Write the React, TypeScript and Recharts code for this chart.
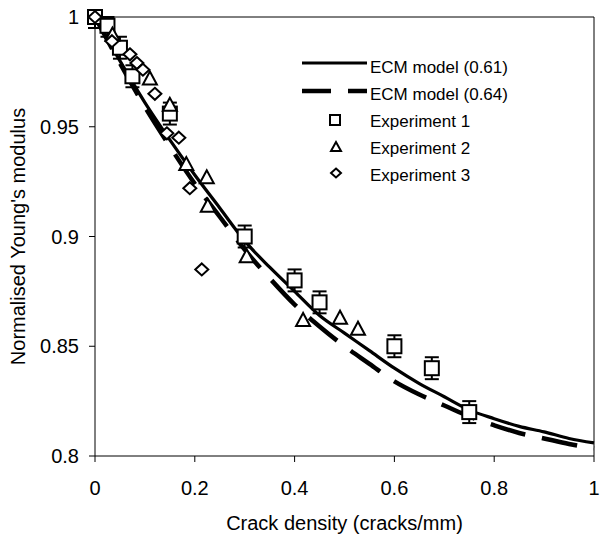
import React from "react";
import {
  ComposedChart,
  Line,
  Scatter,
  ErrorBar,
  XAxis,
  YAxis,
  Legend,
  ReferenceLine,
} from "recharts";

// model curves
const modelX = [0, 0.05, 0.1, 0.15, 0.2, 0.25, 0.3, 0.35, 0.4, 0.45, 0.5, 0.55, 0.6, 0.65, 0.7, 0.75, 0.8, 0.85, 0.9, 0.95, 1];
const ecm061 = [1, 0.98, 0.961, 0.944, 0.928, 0.913, 0.898, 0.886, 0.875, 0.864, 0.856, 0.848, 0.84, 0.833, 0.827, 0.821, 0.817, 0.8135, 0.811, 0.808, 0.806];
const ecm064 = [1, 0.979, 0.959, 0.941, 0.924, 0.909, 0.894, 0.881, 0.869, 0.859, 0.85, 0.842, 0.834, 0.828, 0.823, 0.818, 0.814, 0.8105, 0.808, 0.8055, 0.8035];

// experiments
const exp1X = [0, 0.025, 0.05, 0.075, 0.15, 0.3, 0.4, 0.45, 0.6, 0.675, 0.75];
const exp1Y = [1, 0.996, 0.986, 0.973, 0.956, 0.9, 0.88, 0.87, 0.85, 0.84, 0.82];
const exp1ErrLow = [0.005, 0.005, 0.005, 0.005, 0.005, 0.005, 0.005, 0.005, 0.005, 0.005, 0.005];
const exp1ErrHigh = [0, 0.004, 0.005, 0.005, 0.005, 0.005, 0.005, 0.005, 0.005, 0.005, 0.005];

const exp2X = [0.035, 0.11, 0.15, 0.183, 0.224, 0.226, 0.304, 0.417, 0.491, 0.527];
const exp2Y = [0.992, 0.972, 0.96, 0.933, 0.927, 0.914, 0.891, 0.862, 0.863, 0.858];

const exp3X = [0, 0.034, 0.07, 0.084, 0.096, 0.12, 0.144, 0.168, 0.19, 0.214];
const exp3Y = [1, 0.989, 0.983, 0.979, 0.976, 0.965, 0.947, 0.945, 0.922, 0.885];

const xTicks = [0, 0.2, 0.4, 0.6, 0.8, 1];
const xTickLabels = ["0", "0.2", "0.4", "0.6", "0.8", "1"];
const yTicks = [0.8, 0.85, 0.9, 0.95, 1];
const yTickLabels = ["0.8", "0.85", "0.9", "0.95", "1"];

const legendNames = ["ECM model (0.61)", "ECM model (0.64)", "Experiment 1", "Experiment 2", "Experiment 3"];

const FONT = '"Liberation Sans", Arial, sans-serif';

const line061 = modelX.map((x, i) => ({ x, y: ecm061[i] }));
const line064 = modelX.map((x, i) => ({ x, y: ecm064[i] }));
const exp1 = exp1X.map((x, i) => ({ x, y: exp1Y[i], err: [exp1ErrLow[i], exp1ErrHigh[i]] }));
const exp2 = exp2X.map((x, i) => ({ x, y: exp2Y[i] }));
const exp3 = exp3X.map((x, i) => ({ x, y: exp3Y[i] }));

// marker shapes
const square = (cx: number, cy: number, s: number, sw: number) => (
  <rect x={cx - s / 2} y={cy - s / 2} width={s} height={s} fill="#fff" stroke="#000" strokeWidth={sw} />
);
const triangle = (cx: number, cy: number, s: number, sw: number) => (
  <polygon
    points={`${cx},${cy - s / 2} ${cx - s / 2},${cy + s / 2 - 1} ${cx + s / 2},${cy + s / 2 - 1}`}
    fill="#fff"
    stroke="#000"
    strokeWidth={sw}
  />
);
const diamond = (cx: number, cy: number, s: number, sw: number) => (
  <polygon
    points={`${cx},${cy - s / 2 + 0.5} ${cx + s / 2},${cy} ${cx},${cy + s / 2 - 0.5} ${cx - s / 2},${cy}`}
    fill="#fff"
    stroke="#000"
    strokeWidth={sw}
  />
);

const renderLegend = () => (
  <div style={{ fontFamily: FONT, fontSize: 17, color: "#000" }}>
    {legendNames.map((name, i) => (
      <div key={name} style={{ display: "flex", alignItems: "center", height: 27 }}>
        <svg width={70} height={27} style={{ display: "block" }}>
          {i === 0 && <line x1={2} x2={67} y1={9} y2={9} stroke="#000" strokeWidth={3} />}
          {i === 1 && (
            <line x1={2} x2={67} y1={10} y2={10} stroke="#000" strokeWidth={4.5} strokeDasharray="29 17" />
          )}
          {i === 2 && square(35, 12, 10, 2)}
          {i === 3 && triangle(36, 12, 10, 2)}
          {i === 4 && diamond(36, 11, 10, 2)}
        </svg>
        <span style={{ whiteSpace: "nowrap", lineHeight: "27px" }}>{name}</span>
      </div>
    ))}
  </div>
);

const tickStyle = { fill: "#000", fontSize: 20, fontFamily: FONT };

export default function App() {
  return (
    <div style={{ position: "absolute", left: 0, top: 0, width: 600, height: 540, background: "#fff" }}>
      <ComposedChart width={600} height={540} margin={{ top: 17, right: 6, bottom: 0, left: 0 }}>
        <XAxis
          type="number"
          dataKey="x"
          domain={[0, 1]}
          ticks={xTicks}
          tickFormatter={(v: number) => xTickLabels[xTicks.indexOf(v)]}
          height={84}
          tickSize={6}
          tickMargin={19}
          stroke="#000"
          tick={tickStyle}
          label={{
            value: "Crack density (cracks/mm)",
            position: "insideBottom",
            offset: 10,
            style: { fill: "#000", fontSize: 20, fontFamily: FONT },
          }}
        />
        <YAxis
          type="number"
          dataKey="y"
          domain={[0.8, 1]}
          ticks={yTicks}
          tickFormatter={(v: number) => yTickLabels[yTicks.indexOf(v)]}
          width={95}
          tickSize={6}
          tickMargin={10}
          stroke="#000"
          tick={tickStyle}
          label={{
            value: "Normalised Young's modulus",
            angle: -90,
            position: "insideLeft",
            offset: 18,
            style: { fill: "#000", fontSize: 20, fontFamily: FONT, textAnchor: "middle" },
          }}
        />
        {/* top and right edges of the plot box */}
        <ReferenceLine y={1} stroke="#000" strokeWidth={1} ifOverflow="visible" />
        <ReferenceLine x={1} stroke="#000" strokeWidth={1} ifOverflow="visible" />

        <Line
          data={line061}
          dataKey="y"
          type="monotone"
          stroke="#000"
          strokeWidth={3.2}
          dot={false}
          activeDot={false}
          isAnimationActive={false}
          name={legendNames[0]}
        />
        <Line
          data={line064}
          dataKey="y"
          type="monotone"
          stroke="#000"
          strokeWidth={4.5}
          strokeDasharray="36 17"
          dot={false}
          activeDot={false}
          isAnimationActive={false}
          name={legendNames[1]}
        />

        <Scatter
          data={exp1}
          dataKey="y"
          name={legendNames[2]}
          isAnimationActive={false}
          shape={(p: any) => square(p.cx, p.cy, 14, 2)}
        >
          <ErrorBar dataKey="err" direction="y" width={7} stroke="#000" strokeWidth={2} isAnimationActive={false} />
        </Scatter>
        <Scatter
          data={exp2}
          dataKey="y"
          name={legendNames[3]}
          isAnimationActive={false}
          shape={(p: any) => triangle(p.cx, p.cy, 14, 2)}
        />
        <Scatter
          data={exp3}
          dataKey="y"
          name={legendNames[4]}
          isAnimationActive={false}
          shape={(p: any) => diamond(p.cx, p.cy, 13, 2)}
        />

        <Legend
          layout="horizontal"
          verticalAlign="middle"
          align="center"
          content={renderLegend}
          wrapperStyle={{ left: 300, top: 54, width: 240 }}
        />
      </ComposedChart>
    </div>
  );
}
